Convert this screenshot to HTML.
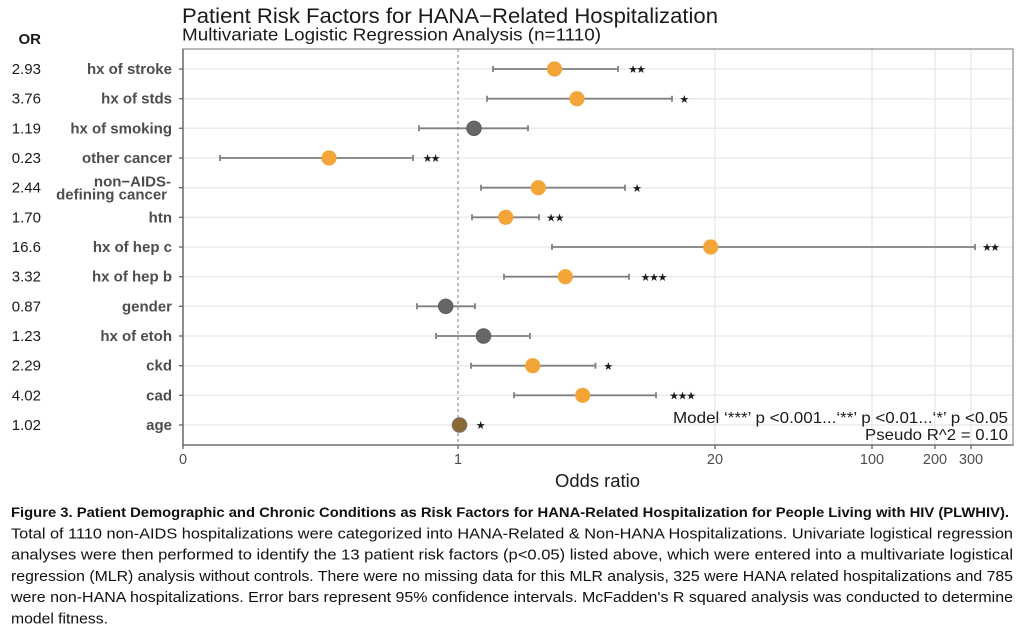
<!DOCTYPE html>
<html>
<head>
<meta charset="utf-8">
<style>
html,body{margin:0;padding:0;background:#fff;}
svg{display:block;}
</style>
</head>
<body>
<svg xmlns="http://www.w3.org/2000/svg" width="1024" height="633" viewBox="0 0 1024 633">
<rect width="1024" height="633" fill="#fff"/>
<g font-family="Liberation Sans, Arial, sans-serif">
<!-- Title -->
<text x="182" y="23" font-size="21" fill="#1a1a1a" textLength="536" lengthAdjust="spacingAndGlyphs">Patient Risk Factors for HANA−Related Hospitalization</text>
<text x="182" y="40.5" font-size="17.5" fill="#1a1a1a" textLength="419" lengthAdjust="spacingAndGlyphs">Multivariate Logistic Regression Analysis (n=1110)</text>
<text x="41" y="44" font-size="15" font-weight="bold" fill="#1a1a1a" text-anchor="end">OR</text>

<!-- gridlines -->
<g stroke="#ebebeb" stroke-width="1.5">
<line x1="715" y1="49" x2="715" y2="445"/>
<line x1="872" y1="49" x2="872" y2="445"/>
<line x1="935" y1="49" x2="935" y2="445"/>
<line x1="971" y1="49" x2="971" y2="445"/>
<line x1="183" y1="69" x2="1013" y2="69"/>
<line x1="183" y1="98.7" x2="1013" y2="98.7"/>
<line x1="183" y1="128.3" x2="1013" y2="128.3"/>
<line x1="183" y1="158" x2="1013" y2="158"/>
<line x1="183" y1="187.7" x2="1013" y2="187.7"/>
<line x1="183" y1="217.3" x2="1013" y2="217.3"/>
<line x1="183" y1="247" x2="1013" y2="247"/>
<line x1="183" y1="276.7" x2="1013" y2="276.7"/>
<line x1="183" y1="306.3" x2="1013" y2="306.3"/>
<line x1="183" y1="336" x2="1013" y2="336"/>
<line x1="183" y1="365.7" x2="1013" y2="365.7"/>
<line x1="183" y1="395.3" x2="1013" y2="395.3"/>
<line x1="183" y1="425" x2="1013" y2="425"/>
</g>

<!-- panel border -->
<rect x="183" y="49" width="830" height="396" fill="none" stroke="#8a8a8a" stroke-width="1.2"/>
<line x1="183" y1="49" x2="183" y2="445.7" stroke="#777" stroke-width="1.6"/>
<line x1="182.2" y1="445" x2="1013.5" y2="445" stroke="#777" stroke-width="1.6"/>

<!-- dashed reference line -->
<line x1="458" y1="49" x2="458" y2="445" stroke="#999" stroke-width="1.3" stroke-dasharray="3,3"/>

<!-- y ticks -->
<g stroke="#666" stroke-width="1.3">
<line x1="179" y1="69" x2="183" y2="69"/>
<line x1="179" y1="98.7" x2="183" y2="98.7"/>
<line x1="179" y1="128.3" x2="183" y2="128.3"/>
<line x1="179" y1="158" x2="183" y2="158"/>
<line x1="179" y1="187.7" x2="183" y2="187.7"/>
<line x1="179" y1="217.3" x2="183" y2="217.3"/>
<line x1="179" y1="247" x2="183" y2="247"/>
<line x1="179" y1="276.7" x2="183" y2="276.7"/>
<line x1="179" y1="306.3" x2="183" y2="306.3"/>
<line x1="179" y1="336" x2="183" y2="336"/>
<line x1="179" y1="365.7" x2="183" y2="365.7"/>
<line x1="179" y1="395.3" x2="183" y2="395.3"/>
<line x1="179" y1="425" x2="183" y2="425"/>
<!-- x ticks -->
<line x1="183" y1="445" x2="183" y2="449"/>
<line x1="458" y1="445" x2="458" y2="449"/>
<line x1="715" y1="445" x2="715" y2="449"/>
<line x1="872" y1="445" x2="872" y2="449"/>
<line x1="935" y1="445" x2="935" y2="449"/>
<line x1="971" y1="445" x2="971" y2="449"/>
</g>

<!-- y labels -->
<g font-size="15" font-weight="bold" fill="#4d4d4d" text-anchor="end">
<text x="172" y="74">hx of stroke</text>
<text x="172" y="103.7">hx of stds</text>
<text x="172" y="133.3">hx of smoking</text>
<text x="172" y="163">other cancer</text>
<text x="171" y="186.5">non−AIDS-</text>
<text x="167" y="199.5">defining cancer</text>
<text x="172" y="222.3">htn</text>
<text x="172" y="252">hx of hep c</text>
<text x="172" y="281.7">hx of hep b</text>
<text x="172" y="311.3">gender</text>
<text x="172" y="341">hx of etoh</text>
<text x="172" y="370.7">ckd</text>
<text x="172" y="400.3">cad</text>
<text x="172" y="430">age</text>
</g>

<!-- OR values -->
<g font-size="15" fill="#1a1a1a" text-anchor="end">
<text x="41" y="74">2.93</text>
<text x="41" y="103.7">3.76</text>
<text x="41" y="133.3">1.19</text>
<text x="41" y="163">0.23</text>
<text x="41" y="192.7">2.44</text>
<text x="41" y="222.3">1.70</text>
<text x="41" y="252">16.6</text>
<text x="41" y="281.7">3.32</text>
<text x="41" y="311.3">0.87</text>
<text x="41" y="341">1.23</text>
<text x="41" y="370.7">2.29</text>
<text x="41" y="400.3">4.02</text>
<text x="41" y="430">1.02</text>
</g>

<!-- error bars -->
<g stroke="#808080" stroke-width="1.8" fill="none">
<path d="M493 69H618M493 66V72M618 66V72"/>
<path d="M487 98.7H672M487 95.7V101.7M672 95.7V101.7"/>
<path d="M419 128.3H528M419 125.3V131.3M528 125.3V131.3"/>
<path d="M220 158H413M220 155V161M413 155V161"/>
<path d="M481 187.7H625M481 184.7V190.7M625 184.7V190.7"/>
<path d="M472 217.3H539M472 214.3V220.3M539 214.3V220.3"/>
<path d="M552 247H975M552 244V250M975 244V250"/>
<path d="M504 276.7H629M504 273.7V279.7M629 273.7V279.7"/>
<path d="M417 306.3H475M417 303.3V309.3M475 303.3V309.3"/>
<path d="M436 336H530M436 333V339M530 333V339"/>
<path d="M471 365.7H595.5M471 362.7V368.7M595.5 362.7V368.7"/>
<path d="M514 395.3H656M514 392.3V398.3M656 392.3V398.3"/>
</g>

<!-- points -->
<g>
<circle cx="554.5" cy="69" r="7.6" fill="#F4A537"/>
<circle cx="577" cy="98.7" r="7.6" fill="#F4A537"/>
<circle cx="474" cy="128.3" r="7.3" fill="#676767" stroke="#555" stroke-width="0.8"/>
<circle cx="329" cy="158" r="7.6" fill="#F4A537"/>
<circle cx="538.3" cy="187.7" r="7.6" fill="#F4A537"/>
<circle cx="505.7" cy="217.3" r="7.6" fill="#F4A537"/>
<circle cx="710.7" cy="247" r="7.6" fill="#F4A537"/>
<circle cx="565.3" cy="276.7" r="7.6" fill="#F4A537"/>
<circle cx="445.7" cy="306.3" r="7.3" fill="#676767" stroke="#555" stroke-width="0.8"/>
<circle cx="483.5" cy="336" r="7.3" fill="#676767" stroke="#555" stroke-width="0.8"/>
<circle cx="532.7" cy="365.7" r="7.6" fill="#F4A537"/>
<circle cx="582.7" cy="395.3" r="7.6" fill="#F4A537"/>
<circle cx="459.5" cy="425" r="7.3" fill="#8B6A37" stroke="#6f6f6f" stroke-width="0.9"/>
</g>

<!-- significance stars -->
<g font-family="DejaVu Sans, sans-serif" font-size="11" fill="#1a1a1a" text-anchor="middle">
<text x="633" y="73.2">★</text><text x="641" y="73.2">★</text>
<text x="684.3" y="102.9">★</text>
<text x="427.5" y="162.2">★</text><text x="435.5" y="162.2">★</text>
<text x="637" y="191.9">★</text>
<text x="551" y="221.5">★</text><text x="559.5" y="221.5">★</text>
<text x="987" y="251.2">★</text><text x="995" y="251.2">★</text>
<text x="645.5" y="280.9">★</text><text x="654" y="280.9">★</text><text x="662.5" y="280.9">★</text>
<text x="608.3" y="369.9">★</text>
<text x="674" y="399.5">★</text><text x="682.5" y="399.5">★</text><text x="691" y="399.5">★</text>
<text x="480.7" y="429.2">★</text>
</g>

<!-- annotation -->
<text x="673" y="423" font-size="16" fill="#1a1a1a" textLength="335" lengthAdjust="spacingAndGlyphs">Model ‘***’ p &lt;0.001...‘**’ p &lt;0.01...‘*’ p &lt;0.05</text>
<text x="865" y="440" font-size="16" fill="#1a1a1a" textLength="143" lengthAdjust="spacingAndGlyphs">Pseudo R^2 = 0.10</text>

<!-- x tick labels -->
<g font-size="14.5" fill="#4d4d4d" text-anchor="middle">
<text x="183" y="464">0</text>
<text x="458" y="464">1</text>
<text x="715" y="464">20</text>
<text x="872" y="464">100</text>
<text x="935" y="464">200</text>
<text x="971" y="464">300</text>
</g>
<text x="555" y="487" font-size="18.5" fill="#1a1a1a" textLength="85" lengthAdjust="spacingAndGlyphs">Odds ratio</text>

<!-- caption -->
<g font-size="14.6" fill="#111">
<text x="11" y="517" font-weight="bold" font-size="14.2" textLength="998" lengthAdjust="spacingAndGlyphs">Figure 3. Patient Demographic and Chronic Conditions as Risk Factors for HANA-Related Hospitalization for People Living with HIV (PLWHIV).</text>
<text x="11" y="538.3" textLength="1002" lengthAdjust="spacingAndGlyphs">Total of 1110 non-AIDS hospitalizations were categorized into HANA-Related &amp; Non-HANA Hospitalizations. Univariate logistical regression</text>
<text x="11" y="559.6" textLength="1002" lengthAdjust="spacingAndGlyphs">analyses were then performed to identify the 13 patient risk factors (p&lt;0.05) listed above, which were entered into a multivariate logistical</text>
<text x="11" y="580.9" textLength="1002" lengthAdjust="spacingAndGlyphs">regression (MLR) analysis without controls. There were no missing data for this MLR analysis, 325 were HANA related hospitalizations and 785</text>
<text x="11" y="602.2" textLength="1002" lengthAdjust="spacingAndGlyphs">were non-HANA hospitalizations. Error bars represent 95% confidence intervals. McFadden's R squared analysis was conducted to determine</text>
<text x="11" y="623.3" textLength="97" lengthAdjust="spacingAndGlyphs">model fitness.</text>
</g>
</g>
</svg>
</body>
</html>
